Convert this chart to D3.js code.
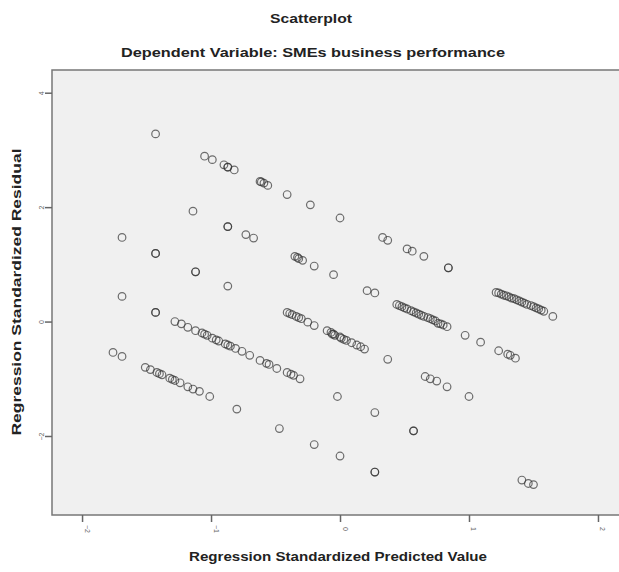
<!DOCTYPE html>
<html>
<head>
<meta charset="utf-8">
<script src="https://cdn.jsdelivr.net/npm/d3@7"></script>
<style>
  body { margin: 0; background: #fff; }
  svg { display: block; font-family: "Liberation Sans", Arial, sans-serif; }
</style>
</head>
<body>
<div class="main"></div>
<script>
// values (standardized predicted value, standardized residual)
const predicted = [
  -1.43, -1.05, -0.99, -0.90, -0.87, -0.87, -0.82, -0.62, -0.61, -0.59, -0.56, -0.41, -0.23, 0.00,
  0.33, 0.37, 0.52, 0.56, 0.65, 0.84, 0.84,
  1.21, 1.23, 1.25, 1.27, 1.29, 1.31, 1.33, 1.35, 1.37, 1.39, 1.41, 1.43, 1.45, 1.48, 1.50, 1.52, 1.54, 1.56, 1.58, 1.65,
  -1.14, -0.87, -0.87, -0.73, -0.67, -0.35, -0.33, -0.32, -0.29, -0.20, -0.05, 0.21, 0.27,
  0.44, 0.46, 0.48, 0.50, 0.52, 0.55, 0.57, 0.59, 0.61, 0.63, 0.65, 0.68, 0.70, 0.72, 0.74, 0.76, 0.78, 0.80, 0.83,
  0.97, 1.09, 1.23, 1.30, 1.32, 1.36,
  -1.69, -1.43, -1.43, -1.12, -1.12, -0.87,
  -0.41, -0.39, -0.37, -0.34, -0.32, -0.30, -0.25, -0.20, -0.10, -0.07, -0.05, 0.00,
  -0.06, -0.04, 0.01, 0.03, 0.05, 0.09, 0.13, 0.16, 0.19, 0.37,
  0.66, 0.70, 0.75, 0.83, 1.00,
  -1.69, -1.43, -1.43,
  -1.28, -1.23, -1.18, -1.12, -1.07, -1.05, -1.03, -0.99, -0.96, -0.94, -0.89, -0.87, -0.85, -0.81, -0.76, -0.70,
  -0.62, -0.57, -0.55, -0.49, -0.41, -0.38, -0.36, -0.31,
  -0.02, 0.27, 0.57, 0.57, 1.41, 1.46, 1.50,
  -1.76, -1.69,
  -1.51, -1.47, -1.42, -1.40, -1.38, -1.32, -1.30, -1.28, -1.24, -1.18, -1.14, -1.09, -1.01,
  -0.80, -0.47, -0.20, 0.00, 0.27, 0.27
]
const residual = [
  3.28, 2.89, 2.83, 2.74, 2.70, 2.70, 2.65, 2.45, 2.44, 2.42, 2.38, 2.22, 2.04, 1.81,
  1.47, 1.42, 1.27, 1.23, 1.14, 0.94, 0.94,
  0.51, 0.50, 0.48, 0.46, 0.45, 0.43, 0.41, 0.40, 0.38, 0.36, 0.34, 0.32, 0.30, 0.28, 0.26, 0.24, 0.22, 0.20, 0.18, 0.09,
  1.93, 1.66, 1.66, 1.52, 1.46, 1.14, 1.12, 1.10, 1.07, 0.97, 0.82, 0.54, 0.50,
  0.30, 0.28, 0.26, 0.24, 0.22, 0.19, 0.17, 0.15, 0.13, 0.11, 0.09, 0.07, 0.05, 0.03, 0.01, -0.03, -0.04, -0.06, -0.09,
  -0.24, -0.36, -0.51, -0.57, -0.59, -0.64,
  1.47, 1.19, 1.19, 0.87, 0.87, 0.62,
  0.16, 0.14, 0.12, 0.09, 0.07, 0.05, -0.01, -0.07, -0.16, -0.19, -0.22, -0.27,
  -0.22, -0.24, -0.29, -0.31, -0.33, -0.37, -0.41, -0.44, -0.48, -0.66,
  -0.96, -1.00, -1.04, -1.14, -1.31,
  0.44, 0.16, 0.16,
  0.00, -0.04, -0.10, -0.16, -0.20, -0.22, -0.24, -0.29, -0.32, -0.34, -0.39, -0.41, -0.43, -0.47, -0.52, -0.59,
  -0.68, -0.73, -0.75, -0.82, -0.89, -0.92, -0.94, -1.00,
  -1.31, -1.59, -1.91, -1.91, -2.77, -2.83, -2.85,
  -0.54, -0.61,
  -0.80, -0.84, -0.89, -0.91, -0.93, -0.99, -1.01, -1.03, -1.07, -1.14, -1.18, -1.22, -1.31,
  -1.53, -1.87, -2.15, -2.35, -2.63, -2.63
]
const xTicks = [-2, -1, 0, 1, 2]
const yTicks = [-2, 0, 2, 4]

const data = predicted.map((d, i) => ({x: d, y: residual[i]}))

const width = 619
const height = 572
const plot = ({left: 52, right: 622, top: 70, bottom: 515})

const x = d3.scaleLinear()
  .domain([-2.233, 2.163])
  .range([plot.left, 619])

const y = d3.scaleLinear()
  .domain([-3.381, 4.397])
  .range([plot.bottom, plot.top])

const svg = d3.select(".main")
  .append("svg")
    .attr("width", width)
    .attr("height", height)
    .attr("viewBox", [0, 0, width, height])

// Titles
svg.append("text")
  .attr("x", 311)
  .attr("y", 23)
  .attr("text-anchor", "middle")
  .attr("font-size", 13)
  .attr("font-weight", "bold")
  .attr("fill", "#222")
  .attr("textLength", 82)
  .attr("lengthAdjust", "spacingAndGlyphs")
  .text("Scatterplot")

svg.append("text")
  .attr("x", 313)
  .attr("y", 57)
  .attr("text-anchor", "middle")
  .attr("font-size", 13.5)
  .attr("font-weight", "bold")
  .attr("fill", "#222")
  .attr("textLength", 384)
  .attr("lengthAdjust", "spacingAndGlyphs")
  .text("Dependent Variable: SMEs business performance")

// plot background
svg.append("rect")
  .attr("x", plot.left)
  .attr("y", plot.top)
  .attr("width", plot.right - plot.left)
  .attr("height", plot.bottom - plot.top)
  .attr("fill", "#f0f0f0")
  .attr("stroke", "#777")
  .attr("stroke-width", 1.5)

// y axis
const yAxis = svg.append("g")
  .attr("transform", `translate(${plot.left},0)`)
  .call(d3.axisLeft(y).tickValues(yTicks).tickFormat(d3.format("d")).tickSize(7).tickSizeOuter(0))
yAxis.select(".domain").remove()
yAxis.selectAll(".tick line").attr("stroke", "#666").attr("stroke-width", 1.5)
yAxis.selectAll(".tick text")
  .attr("font-size", 7)
  .attr("fill", "#666")
  .attr("text-anchor", "middle")
  .attr("x", 0)
  .attr("y", 2)
  .attr("dy", 0)
  .attr("transform", "translate(-10, 0) rotate(-90)")

// x axis
const xAxis = svg.append("g")
  .attr("transform", `translate(0,${plot.bottom})`)
  .call(d3.axisBottom(x).tickValues(xTicks).tickFormat(d3.format("d")).tickSize(7).tickSizeOuter(0))
xAxis.select(".domain").remove()
xAxis.selectAll(".tick line").attr("stroke", "#666").attr("stroke-width", 1.5)
xAxis.selectAll(".tick text")
  .attr("font-size", 7)
  .attr("fill", "#666")
  .attr("text-anchor", "middle")
  .attr("x", 0)
  .attr("y", 0)
  .attr("dy", 0)
  .attr("transform", "translate(2, 14) rotate(90)")

// axis titles
svg.append("text")
  .attr("x", 338)
  .attr("y", 561)
  .attr("text-anchor", "middle")
  .attr("font-size", 13)
  .attr("font-weight", "bold")
  .attr("fill", "#222")
  .attr("textLength", 298)
  .attr("lengthAdjust", "spacingAndGlyphs")
  .text("Regression Standardized Predicted Value")

svg.append("text")
  .attr("transform", `translate(21, 292) rotate(-90)`)
  .attr("text-anchor", "middle")
  .attr("font-size", 13)
  .attr("font-weight", "bold")
  .attr("fill", "#222")
  .attr("textLength", 287)
  .attr("lengthAdjust", "spacingAndGlyphs")
  .text("Regression Standardized Residual")

// points
svg.append("g")
  .attr("id", "points")
  .selectAll("circle")
  .data(data)
  .join("circle")
    .attr("cx", d => x(d.x))
    .attr("cy", d => y(d.y))
    .attr("r", 3.8)
    .attr("fill", "none")
    .attr("stroke", "#333")
    .attr("stroke-opacity", 0.7)
    .attr("stroke-width", 1.2)
</script>
</body>
</html>
